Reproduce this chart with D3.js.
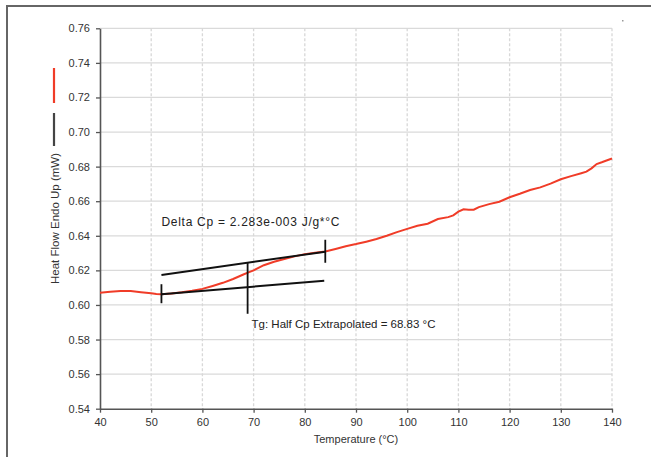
<!DOCTYPE html>
<html><head><meta charset="utf-8">
<script src="https://cdn.jsdelivr.net/npm/d3@7"></script>
<style>body{margin:0;background:#fff;}svg{display:block;font-family:"Liberation Sans",Arial,sans-serif;}</style>
</head><body>
<svg id="c" width="651" height="457"></svg>
<script>
const temps = [40,42,44,46,48,50,51,52,54,56,58,60,62,64,66,68,69,70,72,74,76,78,80,82,84,86,88,90,92,94,96,98,100,102,104,106,108,109,110,111,112,113,114,116,118,120,122,124,126,128,130,132,134,135,136,137,138,140];
const heatFlow = [0.6070,0.6076,0.6081,0.6080,0.6074,0.6068,0.6064,0.6062,0.6066,0.6073,0.6082,0.6093,0.6110,0.6128,0.6150,0.6176,0.6188,0.6200,0.6230,0.6250,0.6266,0.6281,0.6294,0.6302,0.6309,0.6324,0.6340,0.6352,0.6366,0.6381,0.6400,0.6421,0.6440,0.6458,0.6470,0.6497,0.6508,0.6518,0.6540,0.6553,0.6550,0.6551,0.6566,0.6583,0.6597,0.6623,0.6643,0.6665,0.6680,0.6702,0.6727,0.6745,0.6762,0.6771,0.6790,0.6815,0.6825,0.6847];
const xTicks = [40,50,60,70,80,90,100,110,120,130,140];
const yTicks = [0.54,0.56,0.58,0.60,0.62,0.64,0.66,0.68,0.70,0.72,0.74,0.76];
const upperTangent = [[52,0.6173],[84,0.6308]];
const lowerTangent = [[52,0.6062],[83.8,0.6140]];
const markers = [[52,0.6010,0.6120],[84,0.6244,0.6377],[68.83,0.5949,0.6244]];
const labels = [
  {x:52, y:0.6457, text:"Delta Cp = 2.283e-003 J/g*°C", size:12, w:178},
  {x:69.6, y:0.5867, text:"Tg: Half Cp Extrapolated = 68.83 °C", size:11.5, w:null}
];
const xTitle = "Temperature (°C)";
const yTitle = "Heat Flow Endo Up (mW)";

const svg = d3.select("#c");
const L=100, R=612, T=28.3, B=408.7;
const x = d3.scaleLinear().domain([40,140]).range([L,R]);
const y = d3.scaleLinear().domain([0.54,0.76]).range([B,T]);

// outer frame
svg.append("path").attr("d","M7,470 L7,6 L660,6").attr("fill","none").attr("stroke","#666").attr("stroke-width",2);
svg.append("rect").attr("x",622).attr("y",20).attr("width",1.5).attr("height",1.5).attr("fill","#999");

// grid
const g = svg.append("g");
g.selectAll(".hg").data(yTicks.slice(1)).join("line")
  .attr("x1",L).attr("x2",R).attr("y1",d=>y(d)).attr("y2",d=>y(d))
  .attr("stroke","#dadada").attr("stroke-width",1.3);
g.selectAll(".vg").data(xTicks.slice(1)).join("line")
  .attr("y1",T).attr("y2",B).attr("x1",d=>x(d)).attr("x2",d=>x(d))
  .attr("stroke","#d8d8d8").attr("stroke-width",1.3).attr("stroke-dasharray","3,2");

// axes
const xa = svg.append("g").attr("transform",`translate(0,${B})`)
  .call(d3.axisBottom(x).tickValues(xTicks).tickSize(4).tickSizeOuter(0).tickPadding(6).tickFormat(d3.format("d")));
const ya = svg.append("g").attr("transform",`translate(${L},0)`)
  .call(d3.axisLeft(y).tickValues(yTicks).tickSize(4).tickSizeOuter(0).tickPadding(6).tickFormat(d3.format(".2f")));
[xa,ya].forEach(a=>{
  a.select(".domain").attr("stroke","#555").attr("stroke-width",1.6);
  a.selectAll(".tick line").attr("stroke","#555").attr("stroke-width",1.3);
  a.selectAll(".tick text").attr("fill","#333").style("font-size","11px");
});

// axis titles
svg.append("text").attr("x",(L+R)/2).attr("y",443).attr("text-anchor","middle")
  .style("font-size","11px").attr("fill","#333").text(xTitle);
svg.append("text").attr("transform",`translate(59,${(T+B)/2}) rotate(-90)`).attr("text-anchor","middle")
  .style("font-size","11.5px").attr("fill","#333").text(yTitle);

// legend swatches
svg.append("line").attr("x1",54).attr("x2",54).attr("y1",68).attr("y2",103).attr("stroke","#f03c28").attr("stroke-width",2.2);
svg.append("line").attr("x1",54).attr("x2",54).attr("y1",113).attr("y2",146).attr("stroke","#444").attr("stroke-width",2.2);

// data curve
const line = d3.line().x(d=>x(d[0])).y(d=>y(d[1]));
svg.append("path").datum(temps.map((t,i)=>[t,heatFlow[i]])).attr("d",line)
  .attr("fill","none").attr("stroke","#f03c28").attr("stroke-width",2);

// analysis lines
[upperTangent,lowerTangent].forEach(seg=>{
  svg.append("path").datum(seg).attr("d",line).attr("fill","none").attr("stroke","#111").attr("stroke-width",2);
});
svg.selectAll(".mk").data(markers).join("line")
  .attr("x1",d=>x(d[0])).attr("x2",d=>x(d[0])).attr("y1",d=>y(d[1])).attr("y2",d=>y(d[2]))
  .attr("stroke","#111").attr("stroke-width",1.8);

svg.selectAll(".lb").data(labels).join("text")
  .attr("x",d=>x(d.x)).attr("y",d=>y(d.y)).style("font-size",d=>d.size+"px").attr("fill","#222")
  .each(function(d){ if(d.w){ d3.select(this).attr("textLength",d.w).attr("lengthAdjust","spacing"); } })
  .text(d=>d.text);
</script>
</body></html>
